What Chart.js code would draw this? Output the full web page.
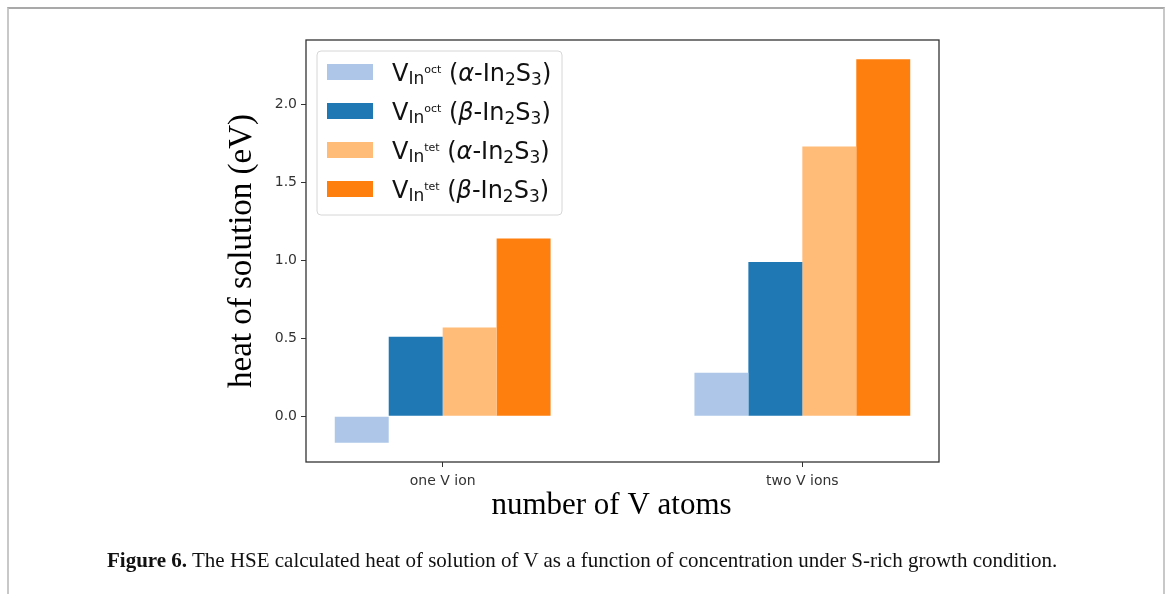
<!DOCTYPE html>
<html>
<head>
<meta charset="utf-8">
<script src="https://cdn.jsdelivr.net/npm/chart.js@4.4.1/dist/chart.umd.min.js"></script>
<style>
html, body { margin: 0; padding: 0; background: #fff; }
#wrap { position: relative; width: 1168px; height: 594px; overflow: hidden; }
#frame { position: absolute; left: 7px; top: 7px; width: 1154px; height: 600px;
  border-top: 2px solid #a9a9a9; border-left: 2px solid #c8c8c8; border-right: 2px solid #c8c8c8; }
#chart { position: absolute; left: 0; top: 0; }
#cap { position: absolute; left: 107px; top: 548px; font-family: 'Liberation Serif', serif;
  font-size: 21px; color: #111; white-space: nowrap; }
</style>
</head>
<body>
<div id="wrap">
  <div id="frame"></div>
  <canvas id="chart" width="1168" height="594"></canvas>
  <div id="cap"><b>Figure 6.</b> The HSE calculated heat of solution of V as a function of concentration under S-rich growth condition.</div>
</div>
<script>
// values (eV)
var categories = ['one V ion', 'two V ions'];
var octAlpha = [-0.17, 0.28];
var octBeta = [0.51, 0.99];
var tetAlpha = [0.57, 1.73];
var tetBeta = [1.14, 2.29];
var yTicks = [0.0, 0.5, 1.0, 1.5, 2.0];
var siteNames = ['oct', 'oct', 'tet', 'tet'];
var phaseNames = ['α', 'β', 'α', 'β'];

var seriesValues = [octAlpha, octBeta, tetAlpha, tetBeta];
var seriesColors = ['#aec7e8', '#1f77b4', '#ffbb78', '#ff7f0e'];

var datasets = seriesValues.map(function (vals, i) {
    return {
        label: 'V_In^' + siteNames[i] + ' (' + phaseNames[i] + '-In2S3)',
        data: vals.map(function (v, j) { return {x: j, y: v}; }),
        backgroundColor: seriesColors[i],
        borderWidth: 0,
        categoryPercentage: 0.6,
        barPercentage: 1.0
    };
});

var FONT = '"DejaVu Sans", sans-serif';

// matplotlib-like frame, legend with sub/superscripts, x-axis title
var extras = {
    id: 'extras',
    afterDraw: function (chart) {
        var ctx = chart.ctx;
        var a = chart.chartArea;
        ctx.save();
        ctx.strokeStyle = '#333';
        ctx.lineWidth = 1.3;
        ctx.strokeRect(a.left, a.top, a.right - a.left, a.bottom - a.top);

        // legend box
        var bx = a.left + 11, by = a.top + 11, bw = 245, bh = 164;
        ctx.beginPath();
        ctx.roundRect(bx, by, bw, bh, 4);
        ctx.fillStyle = 'rgba(255,255,255,0.85)';
        ctx.fill();
        ctx.strokeStyle = '#d6d6d6';
        ctx.lineWidth = 1;
        ctx.stroke();

        ctx.textBaseline = 'alphabetic';
        ctx.textAlign = 'left';
        chart.data.datasets.forEach(function (ds, i) {
            var cy = a.top + 32 + i * 39;
            ctx.fillStyle = ds.backgroundColor;
            ctx.fillRect(a.left + 21, cy - 8, 46, 16);
            ctx.fillStyle = '#111';
            var parts = [
                {t: 'V', f: '24px ' + FONT, dy: 0},
                {t: 'In', f: '17px ' + FONT, dy: 3},
                {t: siteNames[i], f: '11px ' + FONT, dy: -8},
                {t: ' (', f: '24px ' + FONT, dy: 0},
                {t: phaseNames[i], f: 'italic 24px ' + FONT, dy: 0},
                {t: '-In', f: '24px ' + FONT, dy: 0},
                {t: '2', f: '17px ' + FONT, dy: 4},
                {t: 'S', f: '24px ' + FONT, dy: 0},
                {t: '3', f: '17px ' + FONT, dy: 4},
                {t: ')', f: '24px ' + FONT, dy: 0}
            ];
            var x = a.left + 86, y = cy + 8.5;
            parts.forEach(function (p) {
                ctx.font = p.f;
                ctx.fillText(p.t, x, y + p.dy);
                x += ctx.measureText(p.t).width;
            });
        });

        // x-axis title
        ctx.font = '31px "Liberation Serif", serif';
        ctx.fillStyle = '#000';
        ctx.textAlign = 'center';
        ctx.fillText('number of V atoms', (a.left + a.right) / 2 - 11, a.bottom + 52);
        ctx.restore();
    }
};

var config = {
    type: 'bar',
    data: { datasets: datasets },
    options: {
        responsive: false,
        animation: false,
        devicePixelRatio: 1,
        layout: { padding: { left: 220, top: 40, right: 229, bottom: 62 } },
        plugins: {
            legend: { display: false },
            tooltip: { enabled: false }
        },
        scales: {
            x: {
                type: 'linear',
                min: -0.38,
                max: 1.38,
                offset: false,
                afterFit: function (s) { s.height = 70; },
                afterBuildTicks: function (s) {
                    s.ticks = categories.map(function (c, i) { return {value: i}; });
                },
                grid: { display: true, offset: false, drawOnChartArea: false, drawTicks: true, tickLength: 5, color: '#333', lineWidth: 1 },
                border: { display: false },
                ticks: {
                    color: '#333',
                    padding: 6,
                    maxRotation: 0,
                    font: { family: 'DejaVu Sans', size: 14 },
                    callback: function (v) { return categories[v]; }
                }
            },
            y: {
                min: -0.293,
                max: 2.413,
                afterFit: function (s) { s.width = 86; },
                afterBuildTicks: function (s) {
                    s.ticks = yTicks.map(function (v) { return {value: v}; });
                },
                grid: { display: true, drawOnChartArea: false, drawTicks: true, tickLength: 5, color: '#333', lineWidth: 1 },
                border: { display: false },
                ticks: {
                    color: '#333',
                    padding: 4,
                    font: { family: 'DejaVu Sans', size: 14 },
                    callback: function (v) { return v.toFixed(1); }
                },
                title: {
                    display: true,
                    text: 'heat of solution (eV)',
                    color: '#000',
                    font: { family: 'Liberation Serif', size: 33 },
                    padding: { top: 3, bottom: 0 }
                }
            }
        }
    },
    plugins: [extras]
};

var chart = new Chart(document.getElementById('chart'), config);
</script>
</body>
</html>
